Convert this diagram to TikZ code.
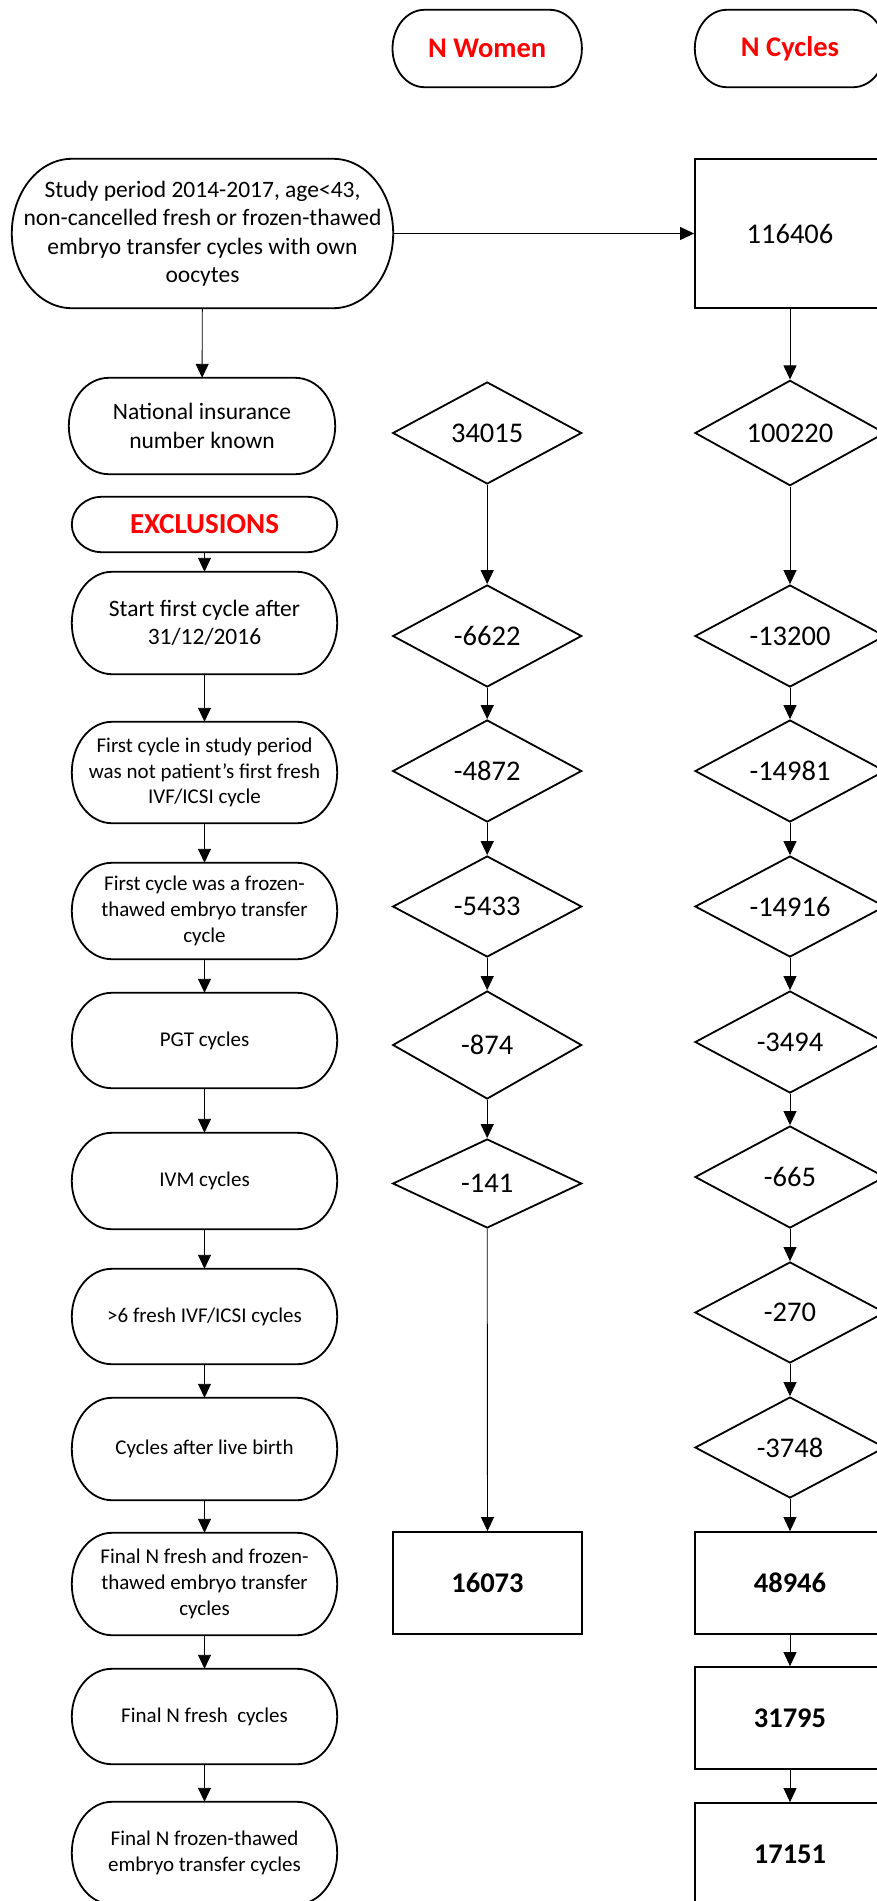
\documentclass[tikz,border=0pt]{standalone}
\usepackage{fontspec}
\setmainfont{Carlito}
\usetikzlibrary{shapes.geometric,arrows.meta,calc}
\definecolor{hdrred}{RGB}{255,0,0}
\newcommand\ovalframe[2]{%
  \draw[line width=1.8pt] let \p1=(#1.north west), \p2=(#1.south east), \n1={(\y1-\y2)/2} in
    ([xshift=#2pt]#1.north west) -- ([xshift=-#2pt]#1.north east)
    arc[start angle=90, end angle=-90, x radius=#2pt, y radius=\n1]
    -- ([xshift=#2pt]#1.south west)
    arc[start angle=270, end angle=90, x radius=#2pt, y radius=\n1] -- cycle;}
\begin{document}
\begin{tikzpicture}[x=1pt,y=-1pt,
  term/.style={align=center, inner sep=0pt,
    minimum width=265pt, font=\fontsize{21}{25.7}\selectfont},
  termbig/.style={term, font=\fontsize{23.5}{28.5}\selectfont},
  hdr/.style={inner sep=0pt, minimum width=189pt,
    minimum height=77pt, text=hdrred, font=\fontsize{28.5}{34}\selectfont\bfseries},
  dia/.style={draw, diamond, line width=1.8pt, inner sep=0pt, minimum width=189pt,
    font=\fontsize{28.5}{34}\selectfont},
  numbox/.style={draw, rectangle, line width=1.8pt, inner sep=0pt, minimum width=189pt,
    minimum height=102pt, font=\fontsize{28.5}{34}\selectfont\bfseries},
  conn/.style={line width=0.9pt, -{Triangle[length=14pt,width=13pt]}}
]
\useasboundingbox (0,0) rectangle (877,1901);
\clip (0,0) rectangle (877,1901);
\fill[white] (0,0) rectangle (877,1901);

% headers
\node[hdr] (hW) at (487.2,48.5) {N Women};
\node[hdr, minimum width=190pt] (hC) at (790,48.5) {N Cycles};

% left column
\node[termbig, minimum width=381pt, minimum height=149pt] (study) at (202.5,233.5)
  {Study period 2014-2017, age<43,\\non-cancelled fresh or frozen-thawed\\embryo transfer cycles with own\\oocytes};
\node[termbig, minimum width=266pt, minimum height=96pt] (nat) at (202,426) {National insurance\\number known};
\node[term, minimum height=55pt, text=hdrred,
  font=\fontsize{29}{34}\selectfont\bfseries] (excl) at (204.5,524.5) {EXCLUSIONS};
\node[termbig, minimum height=102pt] (start) at (204.5,623) {Start first cycle after\\31/12/2016};
\node[term, minimum height=101pt] (first) at (204.5,772.5) {First cycle in study period\\was not patient’s first fresh\\IVF/ICSI cycle};
\node[term, minimum height=96pt] (frozen) at (204.5,911) {First cycle was a frozen-\\thawed embryo transfer\\cycle};
\node[term, minimum height=95pt] (pgt) at (204.5,1040.5) {PGT cycles};
\node[term, minimum height=96pt] (ivm) at (204.5,1181) {IVM cycles};
\node[term, minimum height=95pt] (six) at (204.5,1316.5) {>6 fresh IVF/ICSI cycles};
\node[term, minimum height=102pt] (live) at (204.5,1449) {Cycles after live birth};
\node[term, minimum height=102pt] (finall) at (204.5,1584) {Final N fresh and frozen-\\thawed embryo transfer\\cycles};
\node[term, minimum height=95pt] (finfresh) at (204.5,1716.5) {Final N fresh\ \ cycles};
\node[term, minimum height=102pt] (finfroz) at (204.5,1853) {Final N frozen-thawed\\embryo transfer cycles};

% oval outlines
\ovalframe{hW}{32}
\ovalframe{hC}{32}
\ovalframe{study}{60}
\ovalframe{excl}{30}
\foreach \bx in {nat,start,first,frozen,pgt,ivm,six,live,finall,finfresh,finfroz}
  {\ovalframe{\bx}{40}}

% women column
\node[dia, minimum height=102pt] (w1) at (487.2,433) {34015};
\node[dia, minimum height=102pt] (w2) at (487.2,636) {-6622};
\node[dia, minimum height=102pt] (w3) at (487.2,771) {-4872};
\node[dia, minimum height=101pt] (w4) at (487.2,906.5) {-5433};
\node[dia, minimum height=108pt] (w5) at (487.2,1045) {-874};
\node[dia, minimum height=89pt] (w6) at (487.2,1183.5) {-141};
\node[numbox] (w7) at (487.5,1583) {16073};

% cycles column
\node[numbox, minimum width=190pt, minimum height=149pt, font=\fontsize{28.5}{34}\selectfont] (c0) at (790,233.5) {116406};
\node[dia, minimum width=190pt, minimum height=102pt] (c1) at (790,433) {100220};
\node[dia, minimum width=190pt, minimum height=102pt] (c2) at (790,636) {-13200};
\node[dia, minimum width=190pt, minimum height=102pt] (c3) at (790,771) {-14981};
\node[dia, minimum width=190pt, minimum height=101pt] (c4) at (790,906.5) {-14916};
\node[dia, minimum width=190pt, minimum height=102pt] (c5) at (790,1042) {-3494};
\node[dia, minimum width=190pt, minimum height=102pt] (c6) at (790,1177) {-665};
\node[dia, minimum width=190pt, minimum height=101pt] (c7) at (790,1312.5) {-270};
\node[dia, minimum width=190pt, minimum height=101pt] (c8) at (790,1447.5) {-3748};
\node[numbox, minimum width=190pt] (c9) at (790,1583) {48946};
\node[numbox, minimum width=190pt] (c10) at (790,1718) {31795};
\node[numbox, minimum width=190pt] (c11) at (790,1854) {17151};

% connectors
\draw[conn] (study) -- (c0);
\draw[conn] (study) -- (nat);
\foreach \a/\b in {excl/start,start/first,first/frozen,frozen/pgt,pgt/ivm,ivm/six,six/live,live/finall,finall/finfresh,finfresh/finfroz}
  \draw[conn] (\a.south) -- (\b.north);
\foreach \a/\b in {w1/w2,w2/w3,w3/w4,w4/w5,w5/w6,w6/w7}
  \draw[conn] (\a.south) -- (\b.north);
\foreach \a/\b in {c0/c1,c1/c2,c2/c3,c3/c4,c4/c5,c5/c6,c6/c7,c7/c8,c8/c9,c9/c10,c10/c11}
  \draw[conn] (\a.south) -- (\b.north);
\end{tikzpicture}
\end{document}
